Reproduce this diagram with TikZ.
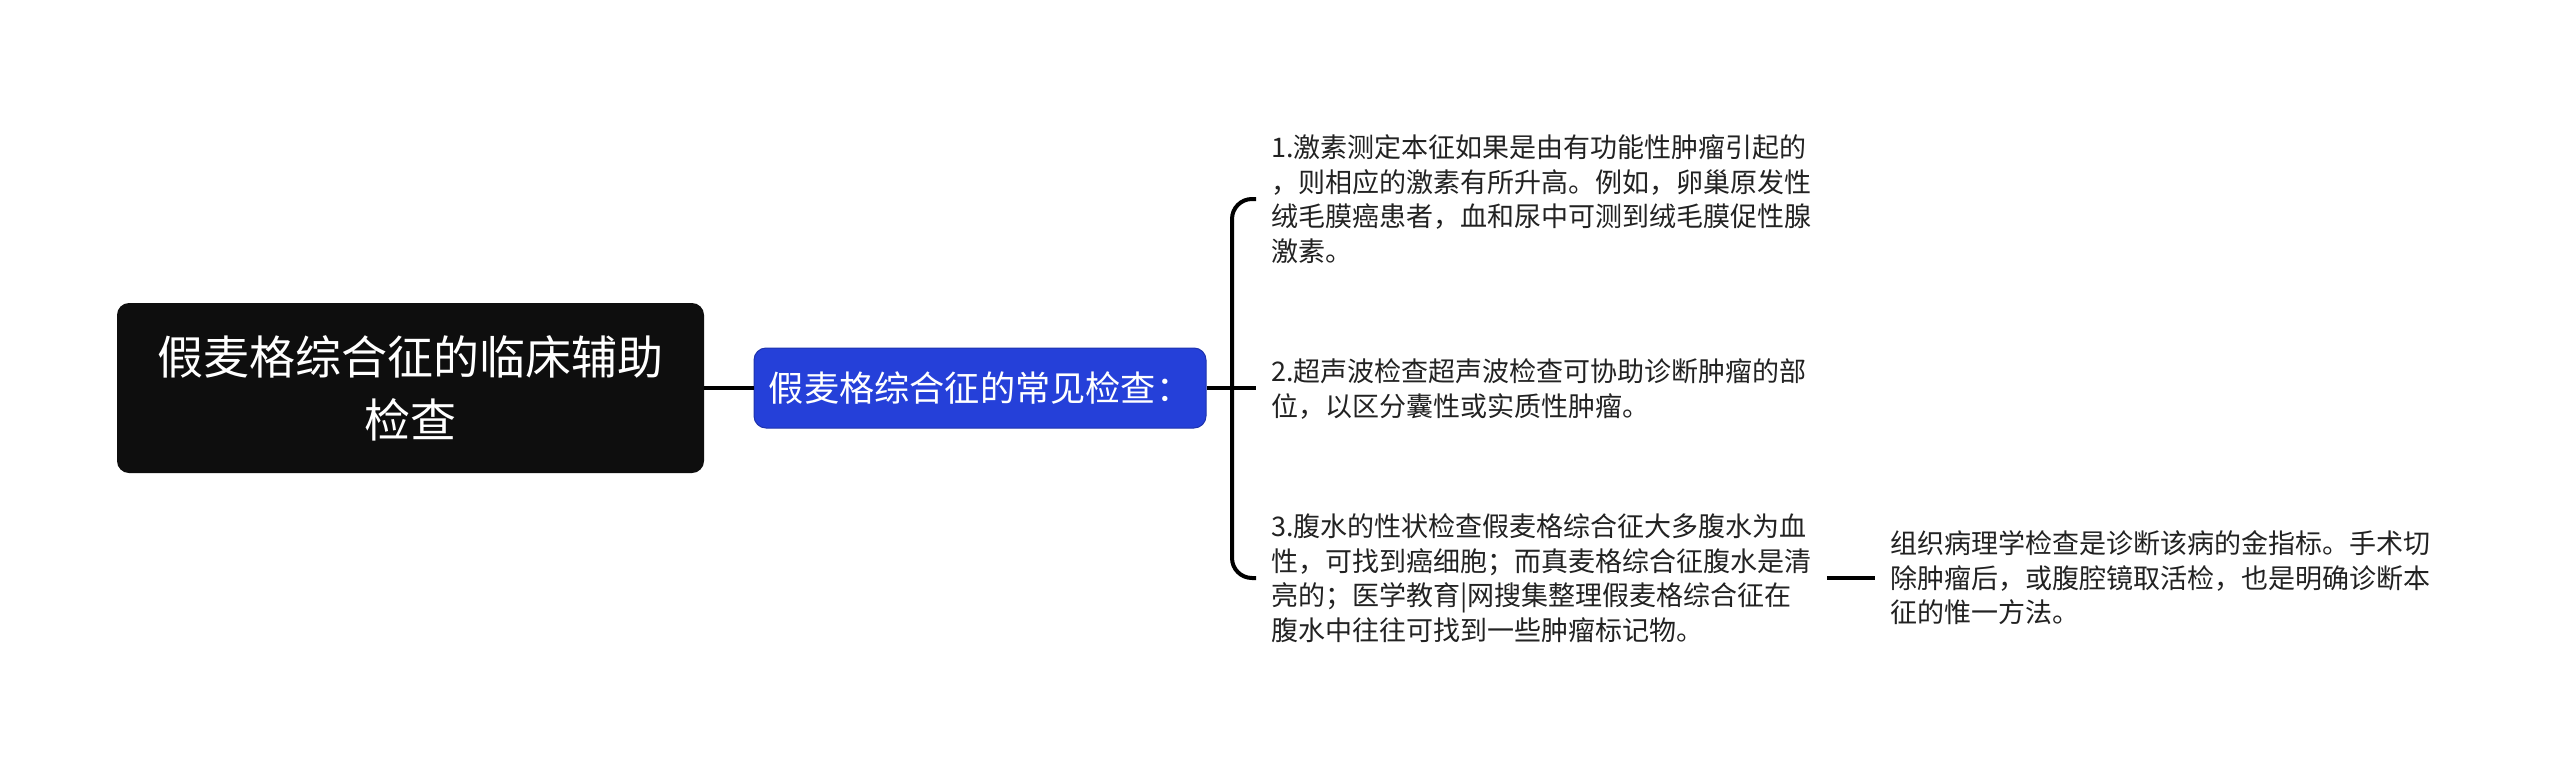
\documentclass[tikz,border=0pt]{standalone}
\usepackage{fontspec}
\setmainfont{Noto Sans CJK SC}
\usetikzlibrary{calc}
\definecolor{rootfill}{HTML}{0E0E0E}
\definecolor{bluefill}{HTML}{2540D9}
\definecolor{txt}{HTML}{222222}
\tikzset{
  rootbox/.style={fill=rootfill, rounded corners=6pt, text=white, align=center,
    minimum width=293.5pt, minimum height=85pt, inner sep=0pt,
    font=\fontsize{23}{31.5}\selectfont},
  subbox/.style={fill=bluefill, draw=bluefill!80!black, line width=0.5pt, rounded corners=6pt, text=white, align=center,
    minimum width=226pt, minimum height=40pt, inner sep=0pt,
    font=\fontsize{17.6}{21}\selectfont},
  leaf/.style={anchor=west, align=left, text=txt, inner xsep=7.5pt, inner ysep=0pt,
    font=\fontsize{13.5}{17.25}\selectfont},
  conn/.style={draw=black, line width=2pt},
}
\begin{document}
\begin{tikzpicture}[x=0.5pt, y=-0.5pt]
\useasboundingbox[fill=white] (0,0) rectangle (2560,777);
\node[rootbox] (root) at (410.5,388) {假麦格综合征的临床辅助\\检查};
\node[subbox] (sub) at (980,388) {假麦格综合征的常见检查：};
\coordinate (hub) at (1232,388);
\node[leaf] (l1) at (1256,199) {1.激素测定本征如果是由有功能性肿瘤引起的\\，则相应的激素有所升高。例如，卵巢原发性\\绒毛膜癌患者，血和尿中可测到绒毛膜促性腺\\激素。};
\node[leaf] (l2) at (1256,389) {2.超声波检查超声波检查可协助诊断肿瘤的部\\位，以区分囊性或实质性肿瘤。};
\node[leaf] (l3) at (1256,578) {3.腹水的性状检查假麦格综合征大多腹水为血\\性，可找到癌细胞；而真麦格综合征腹水是清\\亮的；医学教育|网搜集整理假麦格综合征在\\腹水中往往可找到一些肿瘤标记物。};
\node[leaf] (r) at (1875,578) {组织病理学检查是诊断该病的金指标。手术切\\除肿瘤后，或腹腔镜取活检，也是明确诊断本\\征的惟一方法。};
\draw[conn] (root.east) -- (sub.west);
\draw[conn] (sub.east) -- (hub) -- (hub -| l2.west);
\draw[conn, rounded corners=10pt] (l1.west) -| (hub) |- (l3.west);
\draw[conn] (l3.east) -- (r.west);
\end{tikzpicture}
\end{document}
